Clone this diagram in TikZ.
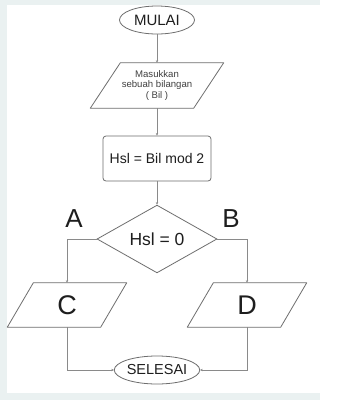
\documentclass[tikz,border=0pt]{standalone}
\usepackage{fontspec}
\setmainfont{Liberation Sans}
\usetikzlibrary{shapes.geometric,arrows.meta}
\definecolor{bgblue}{HTML}{EAF1F1}
\definecolor{edge}{HTML}{6E6E6E}
\definecolor{wire}{HTML}{8A8A8A}
\definecolor{ink}{HTML}{1E1E1E}
\newcommand\slantframe[2]{% name, half slant
  \draw[draw=edge,line width=0.8pt,line join=round]
    ([xshift=#2]#1.north west) -- ([xshift=#2]#1.north east) --
    ([xshift=-#2]#1.south east) -- ([xshift=-#2]#1.south west) -- cycle;}
\begin{document}
\begin{tikzpicture}[x=1pt,y=-1pt,
  shapeline/.style={draw=edge,line width=0.8pt,fill=white,text=ink,inner sep=0pt},
  terminal/.style={shapeline,ellipse,minimum width=#1,minimum height=28pt},
  iobox/.style={text=ink,inner sep=0pt,minimum height=44pt},
  procbox/.style={shapeline,rectangle,rounded corners=3pt,minimum width=108pt,minimum height=45pt},
  decision/.style={shapeline,diamond,minimum width=120pt,minimum height=58pt},
  wirearrow/.style={draw=wire,line width=0.7pt,-{Stealth[length=2.6pt,width=2.4pt]}},
  letter/.style={text=ink,inner sep=0pt,font=\fontsize{26}{28}\selectfont}
]
\useasboundingbox (0,0) rectangle (344,400);
\fill[bgblue] (0,0) rectangle (320,400);
\fill[white] (7,5) rectangle (320,393);

\node[terminal=75pt,font=\fontsize{15}{17}\selectfont] (mulai) at (157,20) {MULAI};
\node[iobox,minimum width=103pt,minimum height=45pt,text=black!75,align=center,
      font=\fontsize{9.6}{10.6}\selectfont] (input) at (157,85.5)
      {Masukkan\\sebuah bilangan\\( Bil )};
\slantframe{input}{15pt}
\node[procbox,font=\fontsize{14}{16}\selectfont] (proc) at (157,158.5) {Hsl = Bil mod 2};
\node[decision,font=\fontsize{17.5}{19}\selectfont] (dec) at (157,239) {Hsl = 0};
\node[letter] (la) at (74,219) {A};
\node[letter] (lb) at (231,219) {B};
\node[iobox,minimum width=93pt,font=\fontsize{27}{29}\selectfont] (c) at (67,305) {C};
\slantframe{c}{13pt}
\node[iobox,minimum width=93pt,font=\fontsize{27}{29}\selectfont] (d) at (247,305) {D};
\slantframe{d}{13pt}
\node[terminal=79pt,font=\fontsize{14.5}{16}\selectfont] (selesai) at (157,370) {SELESAI};

\draw[wirearrow] (mulai) -- (input);
\draw[wirearrow] (input) -- (proc);
\draw[wirearrow] (proc) -- (dec);
\draw[wirearrow] (dec.west) -| (c.north);
\draw[wirearrow] (dec.east) -| (d.north);
\draw[wirearrow] (c.south) |- (selesai.west);
\draw[wirearrow] (d.south) |- (selesai.east);
\end{tikzpicture}
\end{document}
